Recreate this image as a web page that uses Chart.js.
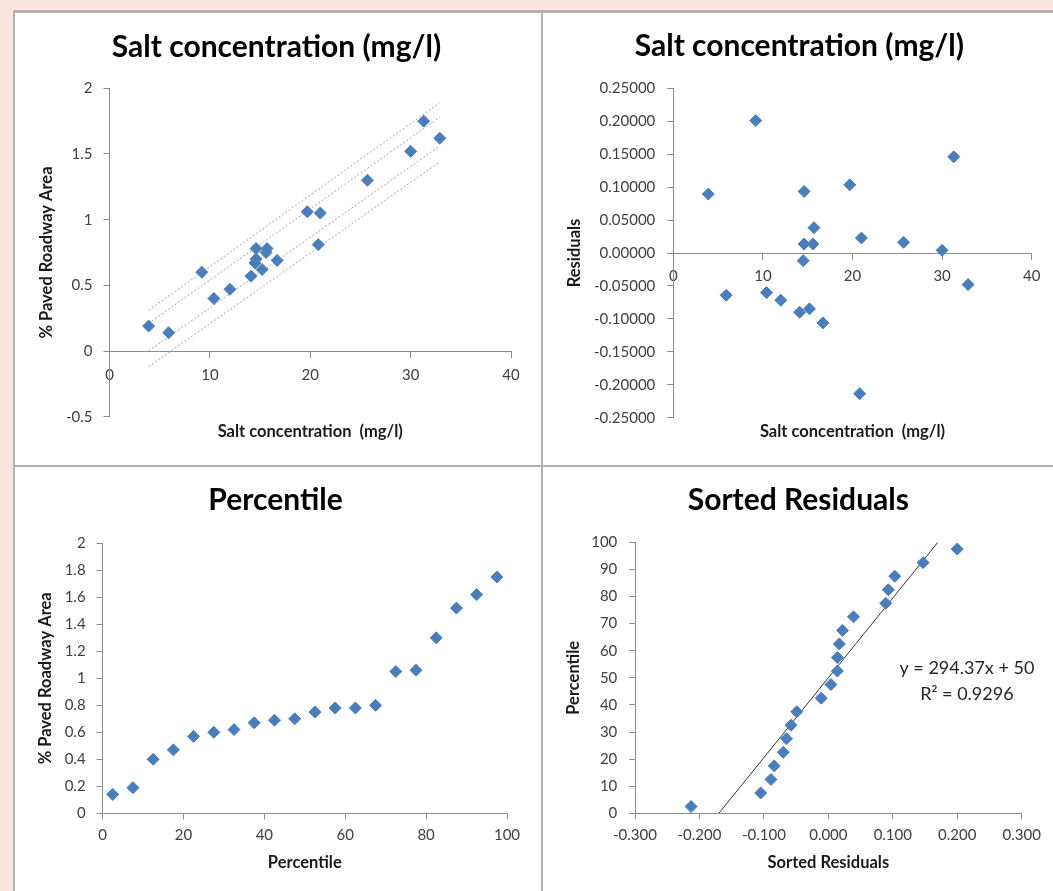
<!DOCTYPE html>
<html>
<head>
<meta charset="utf-8">
<script src="https://cdn.jsdelivr.net/npm/chart.js"></script>
<style>
  html, body { margin: 0; padding: 0; width: 1053px; height: 891px; overflow: hidden; background: #fbe5de; }
  #sheet { position: absolute; left: 13px; top: 10px; width: 1040px; height: 881px; background: #b3b3b3; }
  .panel { position: absolute; background: #fff; overflow: hidden; }
  .panel canvas { position: absolute; left: 0; top: 0; }
</style>
</head>
<body>
<div id="sheet"></div>
<div class="panel" style="left:15px;top:13px;width:526px;height:452px"><canvas id="c1" width="526" height="452"></canvas></div>
<div class="panel" style="left:543px;top:13px;width:510px;height:452px"><canvas id="c2" width="510" height="452"></canvas></div>
<div class="panel" style="left:15px;top:467px;width:526px;height:424px"><canvas id="c3" width="526" height="424"></canvas></div>
<div class="panel" style="left:543px;top:467px;width:510px;height:424px"><canvas id="c4" width="510" height="424"></canvas></div>
<script>
// values
const saltConc = [3.9, 5.9, 9.2, 10.4, 12.0, 14.1, 14.6, 14.6, 14.5, 15.2, 15.6, 15.7, 16.7, 19.7, 21.0, 20.8, 25.7, 30.0, 31.3, 32.9];
const pavedArea = [0.19, 0.14, 0.60, 0.40, 0.47, 0.57, 0.78, 0.70, 0.67, 0.62, 0.75, 0.78, 0.69, 1.06, 1.05, 0.81, 1.30, 1.52, 1.75, 1.62];
const residuals = [0.0894, -0.0641, 0.2010, -0.0601, -0.0717, -0.0899, 0.0934, 0.0136, -0.0116, -0.0848, 0.0136, 0.0384, -0.1061, 0.1035, 0.0227, -0.2136, 0.0162, 0.0040, 0.1460, -0.0480];

// dotted band lines of the first panel (start / end values)
const bandX = [3.9, 32.9];
const bandLines = [[0.31, 1.89], [0.21, 1.78], [0.00, 1.56], [-0.12, 1.44]];

const percentile = [2.5, 7.5, 12.5, 17.5, 22.5, 27.5, 32.5, 37.5, 42.5, 47.5, 52.5, 57.5, 62.5, 67.5, 72.5, 77.5, 82.5, 87.5, 92.5, 97.5];
const pavedSorted = [0.14, 0.19, 0.40, 0.47, 0.57, 0.60, 0.62, 0.67, 0.69, 0.70, 0.75, 0.78, 0.78, 0.80, 1.05, 1.06, 1.30, 1.52, 1.62, 1.75];
const residSorted = [-0.213, -0.105, -0.089, -0.084, -0.070, -0.065, -0.058, -0.049, -0.011, 0.004, 0.014, 0.014, 0.017, 0.022, 0.039, 0.089, 0.093, 0.103, 0.147, 0.200];

// trendline of the sorted residuals panel
const trendSlope = 294.37;
const trendIntercept = 50;
const trendText = ['y = 294.37x + 50', 'R\u00b2 = 0.9296'];
const trendTextAt = [0.215, 53.5];

const FONT = 'Lato, "Open Sans", sans-serif';
const MARKER = '#4a7ebb';
const AXIS_COLOR = '#8c8c8c';
const TICK_COLOR = '#404040';
const LABEL_COLOR = '#1a1a1a';
const LABEL_SIZE = 16.5;
const HALF_LH = LABEL_SIZE * 1.2 / 2;

const fix = (size) => (scale) => {
  if (scale.isHorizontal()) scale.height = size; else scale.width = size;
};

const toPoints = (xs, ys) => xs.map((x, i) => ({ x: x, y: ys[i] }));

const fmtDec = (d) => (v) => {
  const r = Math.round(v * Math.pow(10, d)) / Math.pow(10, d);
  return (r === 0 ? 0 : r).toFixed(d);
};
const fmtShort = (v) => String(Number(v.toFixed(2)));

function axis(o) {
  return {
    type: 'linear',
    position: o.position,
    min: o.min,
    max: o.max,
    afterFit: fix(o.size),
    border: { display: true, color: AXIS_COLOR, width: 1 },
    grid: { drawOnChartArea: false, drawTicks: true, tickLength: 6, color: AXIS_COLOR },
    ticks: {
      stepSize: o.step, padding: o.pad, color: TICK_COLOR, autoSkip: false, maxRotation: 0,
      font: { family: FONT, size: 15 }, callback: o.format
    },
    title: o.title
      ? { display: true, text: o.title, color: LABEL_COLOR, font: { family: FONT, size: LABEL_SIZE, weight: 'bold' }, padding: o.titlePad }
      : { display: false }
  };
}

// extra axis that only carries the x title (used where the x axis crosses at y = 0)
function titleAxis(text, size, fromBottom) {
  return {
    type: 'linear', position: 'bottom', afterFit: fix(size),
    grid: { display: false }, border: { display: false }, ticks: { display: false },
    title: { display: true, text: text, color: LABEL_COLOR, font: { family: FONT, size: LABEL_SIZE, weight: 'bold' },
      padding: { top: 0, bottom: fromBottom - HALF_LH } }
  };
}

function chartTitle(text, centerY, chartTop) {
  const lh = 30 * 1.2;
  const top = centerY - lh / 2;
  return {
    display: true, text: text, color: '#000',
    font: { family: FONT, size: 30, weight: 'bold', lineHeight: 1.2 },
    padding: { top: top, bottom: chartTop - top - lh }
  };
}

const markers = (data) => ({
  data: data, pointStyle: 'rectRot', pointRadius: 6, pointHoverRadius: 6,
  backgroundColor: MARKER, borderColor: MARKER, borderWidth: 1, showLine: false
});

const plainLine = (data, color, dash) => ({
  data: data, showLine: true, pointRadius: 0, borderColor: color, borderWidth: 1, borderDash: dash, fill: false
});

const baseOptions = (pad, title, scales) => ({
  responsive: false, animation: false,
  layout: { padding: pad },
  plugins: { legend: { display: false }, tooltip: { enabled: false }, title: title },
  scales: scales
});

// Panel 1 - salt concentration vs paved area
const bandSets = bandLines.map(l => plainLine(toPoints(bandX, l), '#a6a6a6', [2, 2]));
new Chart(document.getElementById('c1'), {
  type: 'scatter',
  data: { datasets: [markers(toPoints(saltConc, pavedArea))].concat(bandSets) },
  options: baseOptions({ left: 27, right: 30, top: 0, bottom: 0 },
    chartTitle('Salt concentration (mg/l)', 34, 75.3), {
      x: axis({ position: { y: 0 }, min: 0, max: 40, step: 10, pad: 9, size: 0, format: fmtShort }),
      y: axis({ position: 'left', min: -0.5, max: 2, step: 0.5, pad: 11, size: 67.5, format: fmtShort,
        title: '% Paved Roadway Area', titlePad: { top: 4.4 - HALF_LH, bottom: 0 } }),
      xTitle: titleAxis('Salt concentration  (mg/l)', 48.3, 33)
    })
});

// Panel 2 - residuals
new Chart(document.getElementById('c2'), {
  type: 'scatter',
  data: { datasets: [markers(toPoints(saltConc, residuals))] },
  options: baseOptions({ left: 24, right: 21.3, top: 0, bottom: 0 },
    chartTitle('Salt concentration (mg/l)', 33.7, 75.3), {
      x: axis({ position: { y: 0 }, min: 0, max: 40, step: 10, pad: 8, size: 0, format: fmtShort }),
      y: axis({ position: 'left', min: -0.25, max: 0.25, step: 0.05, pad: 12, size: 106.3, format: fmtDec(5),
        title: 'Residuals', titlePad: { top: 7.4 - HALF_LH, bottom: 0 } }),
      xTitle: titleAxis('Salt concentration  (mg/l)', 47.3, 33.3)
    })
});

// Panel 3 - percentile plot
new Chart(document.getElementById('c3'), {
  type: 'scatter',
  data: { datasets: [markers(toPoints(percentile, pavedSorted))] },
  options: baseOptions({ left: 29, right: 34, top: 0, bottom: 0 },
    chartTitle('Percentile', 33, 76.3), {
      x: axis({ position: 'bottom', min: 0, max: 100, step: 20, pad: 7, size: 77.7, format: fmtShort,
        title: 'Percentile', titlePad: { top: 0, bottom: 28.7 - HALF_LH } }),
      y: axis({ position: 'left', min: 0, max: 2, step: 0.2, pad: 11, size: 58.6, format: fmtShort,
        title: '% Paved Roadway Area', titlePad: { top: 1.8 - HALF_LH, bottom: 0 } })
    })
});

// Panel 4 - sorted residuals with linear trendline
const trendEnds = [0, 100].map(p => ({ x: (p - trendIntercept) / trendSlope, y: p }));
const trendLabel = {
  id: 'trendLabel',
  afterDatasetsDraw(chart) {
    const { ctx, scales } = chart;
    const px = scales.x.getPixelForValue(trendTextAt[0]);
    const py = scales.y.getPixelForValue(trendTextAt[1]);
    ctx.save();
    ctx.font = '18px ' + FONT;
    ctx.fillStyle = '#262626';
    ctx.textAlign = 'center';
    ctx.textBaseline = 'middle';
    trendText.forEach((t, i) => ctx.fillText(t, px, py + i * 26));
    ctx.restore();
  }
};
new Chart(document.getElementById('c4'), {
  type: 'scatter',
  data: { datasets: [markers(toPoints(residSorted, percentile)), plainLine(trendEnds, '#333333', [])] },
  options: baseOptions({ left: 32, right: 31.3, top: 0, bottom: 0 },
    chartTitle('Sorted Residuals', 33, 75.3), {
      x: axis({ position: 'bottom', min: -0.3, max: 0.3, step: 0.1, pad: 7, size: 77.7, format: fmtDec(3),
        title: 'Sorted Residuals', titlePad: { top: 0, bottom: 28.7 - HALF_LH } }),
      y: axis({ position: 'left', min: 0, max: 100, step: 10, pad: 11.7, size: 60, format: fmtShort,
        title: 'Percentile', titlePad: { top: -0.9 - HALF_LH, bottom: 0 } })
    }),
  plugins: [trendLabel]
});
</script>
</body>
</html>
